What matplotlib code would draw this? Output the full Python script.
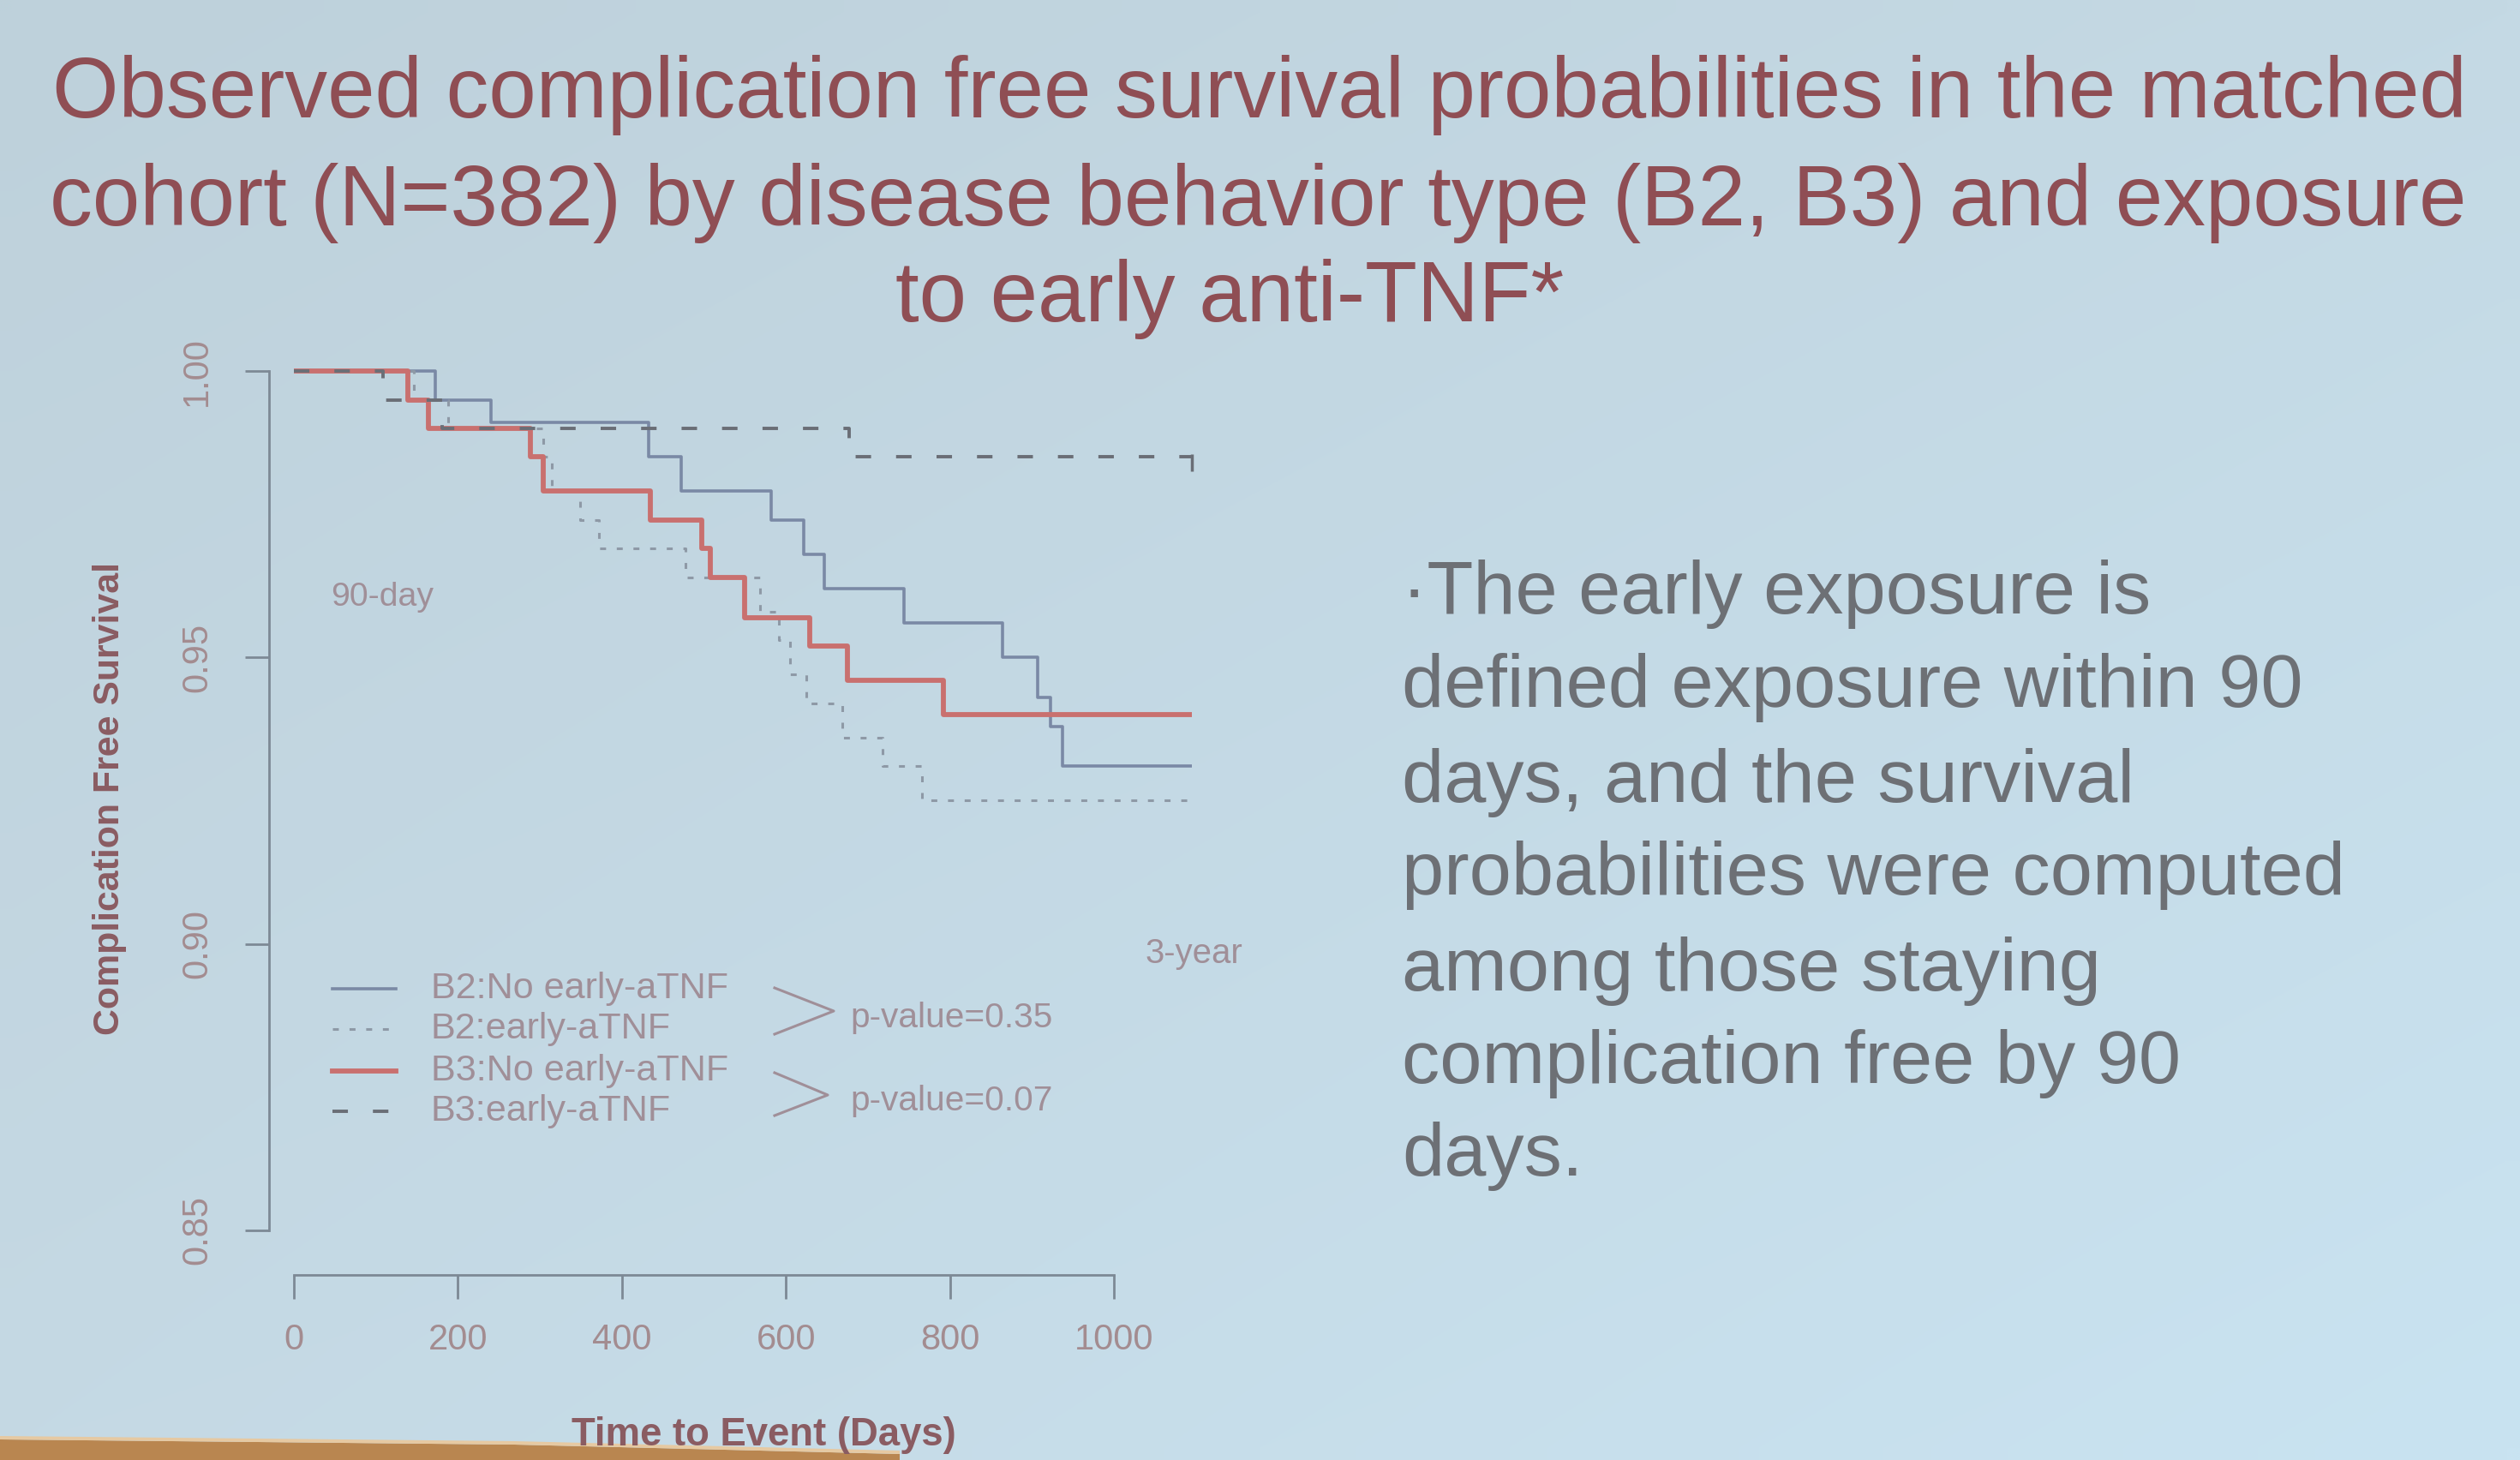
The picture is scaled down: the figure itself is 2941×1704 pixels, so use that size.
import numpy as np
import matplotlib
matplotlib.use("Agg")
import matplotlib.pyplot as plt
from matplotlib.lines import Line2D
from matplotlib.patches import Polygon

plt.rcParams["font.family"] = ["Liberation Sans", "DejaVu Sans"]
plt.rcParams["lines.scale_dashes"] = False

# ---------------- data ----------------
# Kaplan-Meier step curves: event times (days) and survival after each step
b2_no_t = [0, 172, 240, 433, 472, 582, 622, 647, 744, 864, 907, 923, 937]
b2_no_s = [1.000, 0.995, 0.991, 0.985, 0.979, 0.974, 0.968, 0.962, 0.956, 0.950, 0.943, 0.938, 0.931]

b2_early_t = [0, 146, 188, 304, 315, 349, 372, 478, 568, 591, 605, 625, 669, 718, 766]
b2_early_s = [1.000, 0.995, 0.990, 0.985, 0.979, 0.974, 0.969, 0.964, 0.958, 0.953, 0.947, 0.942, 0.936, 0.931, 0.925]

b3_no_t = [0, 139, 164, 288, 304, 435, 497, 508, 550, 629, 675, 792]
b3_no_s = [1.000, 0.995, 0.990, 0.985, 0.979, 0.974, 0.969, 0.964, 0.957, 0.952, 0.946, 0.940]

b3_early_t = [0, 109, 181, 677]
b3_early_s = [1.000, 0.995, 0.990, 0.985]

follow_up_end = 1095  # 3 years

legend_labels = ["B2:No early-aTNF", "B2:early-aTNF", "B3:No early-aTNF", "B3:early-aTNF"]
p_values = ["p-value=0.35", "p-value=0.07"]
x_ticks = [0, 200, 400, 600, 800, 1000]
y_ticks = [0.85, 0.90, 0.95, 1.00]
y_tick_labels = ["0.85", "0.90", "0.95", "1.00"]

title_lines = ["Observed complication free survival probabilities in the matched",
               "cohort (N=382) by disease behavior type (B2, B3) and exposure",
               "to early anti-TNF*"]
note_lines = ["\u00b7The early exposure is",
              "defined exposure within 90",
              "days, and the survival",
              "probabilities were computed",
              "among those staying",
              "complication free by 90",
              "days."]

# ---------------- styles ----------------
W, H = 2941, 1704
fig = plt.figure(figsize=(W / 100, H / 100), dpi=100)

def fxp(px):
    return px / W

def fyp(py):
    return 1 - py / H

c_title = "#8f4e54"
c_note = "#6d7075"
c_axis = "#7d8995"
c_tick = "#a38c90"
c_lab = "#8a5c62"
c_ann = "#a08f98"
c_red = "#c9706f"
c_blue = "#7a89a5"
c_dash = "#6a6e76"
c_dot = "#8e99a6"

styles = [
    dict(color=c_blue, lw=2.6, ls="-"),
    dict(color=c_dot, lw=2.2, ls=(0, (5, 9))),
    dict(color=c_red, lw=4.2, ls="-"),
    dict(color=c_dash, lw=2.8, ls=(0, (13, 21))),
]

# ---------------- background (photo of a slide) ----------------
bg = fig.add_axes([0, 0, 1, 1], zorder=-10)
gy, gx = np.mgrid[0:1:60j, 0:1:100j]
tl = np.array([190, 209, 219]); tr = np.array([196, 217, 228])
bl = np.array([197, 217, 228]); br = np.array([201, 227, 241])
img = ((1 - gx)[..., None] * (1 - gy)[..., None] * tl + gx[..., None] * (1 - gy)[..., None] * tr
       + (1 - gx)[..., None] * gy[..., None] * bl + gx[..., None] * gy[..., None] * br) / 255.0
bg.imshow(img, extent=[0, 1, 0, 1], aspect="auto", origin="upper", interpolation="bilinear")
bg.set_xlim(0, 1); bg.set_ylim(0, 1)
bg.axis("off")
strip = Polygon([[0, fyp(1680)], [600, fyp(1686)], [1050, fyp(1697)], [1050, 0], [0, 0]],
                closed=True, transform=fig.transFigure, facecolor="#b98650", edgecolor="none", zorder=-5)
strip.set_xy([[fxp(0), fyp(1680)], [fxp(600), fyp(1686)], [fxp(1050), fyp(1697)], [fxp(1050), 0], [0, 0]])
fig.patches.append(strip)
strip2 = Polygon([[fxp(0), fyp(1676)], [fxp(600), fyp(1682)], [fxp(1050), fyp(1693)],
                  [fxp(1050), fyp(1697)], [fxp(600), fyp(1686)], [fxp(0), fyp(1680)]],
                 closed=True, transform=fig.transFigure, facecolor="#e6c9a2", edgecolor="none", zorder=-5)
fig.patches.append(strip2)

# ---------------- main plot ----------------
L, R, T, B = 314, 1434, 393, 1488
ax = fig.add_axes([fxp(L), fyp(B), (R - L) / W, (B - T) / H])
ax.patch.set_alpha(0)
ax.set_xlim(-30.3, 1140)
ax.set_ylim(0.8422, 1.006)

curves = [(b2_no_t, b2_no_s), (b2_early_t, b2_early_s), (b3_no_t, b3_no_s), (b3_early_t, b3_early_s)]
for (t, s), st in zip(curves, styles):
    ax.step(list(t) + [follow_up_end], list(s) + [s[-1]], where="post",
            solid_capstyle="butt", dash_capstyle="butt", **st)
ax.plot([follow_up_end], [b3_early_s[-1] - 0.001], marker="|", ms=14, mew=2.5, color=c_dash, ls="none")

for side in ["top", "right"]:
    ax.spines[side].set_visible(False)
for side in ["left", "bottom"]:
    ax.spines[side].set_color(c_axis)
    ax.spines[side].set_linewidth(2.0)
ax.spines["bottom"].set_bounds(x_ticks[0], x_ticks[-1])
ax.spines["left"].set_bounds(y_ticks[0], y_ticks[-1])
ax.set_xticks(x_ticks)
ax.set_xticklabels([str(v) for v in x_ticks])
ax.set_yticks(y_ticks)
ax.set_yticklabels(y_tick_labels)
ax.tick_params(axis="both", colors=c_axis, labelcolor=c_tick, length=20, width=2.0, labelsize=30)
ax.tick_params(axis="x", pad=20)
ax.tick_params(axis="y", pad=26)
for lab in ax.get_yticklabels():
    lab.set_rotation(90)
    lab.set_va("center")

# ---------------- texts ----------------
fig.canvas.draw()
rend = fig.canvas.get_renderer()

def fit_w(txt, target):
    w = txt.get_window_extent(renderer=rend).width
    txt.set_fontsize(txt.get_fontsize() * target / w)
    return txt.get_fontsize()

def fit_h(txt, target):
    h = txt.get_window_extent(renderer=rend).height
    txt.set_fontsize(txt.get_fontsize() * target / h)
    return txt.get_fontsize()

# title
t_x = [1470, 1468, 1435]
t_y = [137, 263, 375]
tt = [fig.text(fxp(x), fyp(y), s, ha="center", va="baseline", fontsize=70, color=c_title)
      for x, y, s in zip(t_x, t_y, title_lines)]
fs = fit_w(tt[0], 2817)
for t in tt[1:]:
    t.set_fontsize(fs)

# side note
n_y = [694, 803, 913, 1022, 1133, 1242, 1350]
nn = [fig.text(fxp(1636), fyp(y), s, ha="left", va="center", fontsize=60, color=c_note)
      for y, s in zip(n_y, note_lines)]
fs = fit_w(nn[3], 1102)
for t in nn:
    t.set_fontsize(fs)

# axis titles
yl = fig.text(fxp(128), fyp(932), "Complication Free Survival", rotation=90, ha="center", va="center",
              fontsize=30, fontweight="bold", color=c_lab)
fit_h(yl, 553)
xl = fig.text(fxp(891), fyp(1675), "Time to Event (Days)", ha="center", va="center",
              fontsize=30, fontweight="bold", color=c_lab)
fit_w(xl, 450)

# legend drawn by hand
row_y = [1154, 1201, 1250, 1297]
lt = []
for y, lab, st in zip(row_y, legend_labels, styles):
    fig.add_artist(Line2D([fxp(388), fxp(462)], [fyp(y), fyp(y)], transform=fig.transFigure,
                          color=st["color"], lw=st["lw"], ls=st["ls"], dash_capstyle="butt"))
    lt.append(fig.text(fxp(503), fyp(y), lab, ha="left", va="center", fontsize=30, color=c_ann))
fs = fit_w(lt[0], 347)
for t in lt:
    t.set_fontsize(fs)

# brackets and p-values
for (tx, ty), top, bot in [((973, 1180), 1153, 1207), ((966, 1278), 1252, 1302)]:
    fig.add_artist(Line2D([fxp(904), fxp(tx), fxp(904)], [fyp(top), fyp(ty), fyp(bot)],
                          transform=fig.transFigure, color=c_ann, lw=2.2))
pv = [fig.text(fxp(992), fyp(y), s, ha="left", va="center", fontsize=28, color=c_ann)
      for y, s in zip([1188, 1285], p_values)]
fs = fit_w(pv[0], 236)
for t in pv:
    t.set_fontsize(fs)

a90 = fig.text(fxp(386), fyp(697), "90-day", ha="left", va="center", fontsize=24, color=c_ann)
fit_w(a90, 120)
a3 = fig.text(fxp(1337), fyp(1113), "3-year", ha="left", va="center", fontsize=24, color=c_ann)
fit_w(a3, 114)

fig.savefig("out.png", dpi=100)
